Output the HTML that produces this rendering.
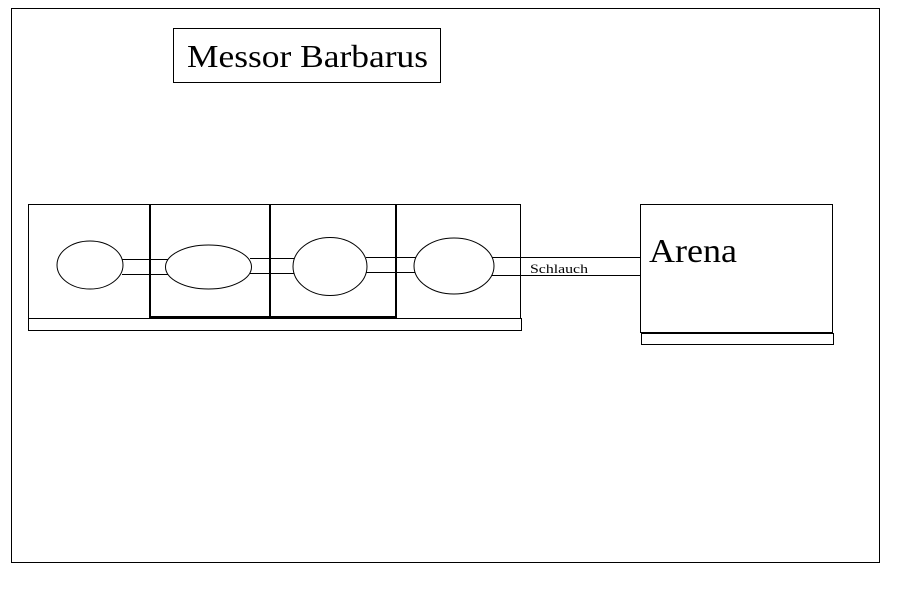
<!DOCTYPE html>
<html><head><style>body{margin:0;background:#fff}</style></head><body>
<svg width="916" height="586" xmlns="http://www.w3.org/2000/svg" font-family="Liberation Serif, serif">
<rect x="0" y="0" width="916" height="586" fill="#fff"/>
<rect x="11.5" y="8.5" width="868" height="554" fill="none" stroke="#000"/>
<rect x="173.5" y="28.5" width="267" height="54" fill="none" stroke="#000"/>
<text x="187" y="67" font-size="32" textLength="241" lengthAdjust="spacingAndGlyphs">Messor Barbarus</text>
<rect x="28.5" y="204.5" width="492" height="114" fill="none" stroke="#000"/>
<line x1="150" y1="204" x2="150" y2="318" stroke="#000" stroke-width="2"/>
<line x1="270" y1="204" x2="270" y2="318" stroke="#000" stroke-width="2"/>
<line x1="396" y1="204" x2="396" y2="318" stroke="#000" stroke-width="2"/>
<line x1="150" y1="317" x2="396" y2="317" stroke="#000" stroke-width="2"/>
<rect x="28.5" y="318.5" width="493" height="12" fill="none" stroke="#000"/>
<g stroke="#000" fill="none">
<line x1="122" y1="259.5" x2="168" y2="259.5"/><line x1="122" y1="274.5" x2="168" y2="274.5"/>
<line x1="250" y1="258.5" x2="295" y2="258.5"/><line x1="250" y1="273.5" x2="295" y2="273.5"/>
<line x1="366" y1="257.5" x2="416" y2="257.5"/><line x1="366" y1="272.5" x2="416" y2="272.5"/>
<line x1="492" y1="257.5" x2="640" y2="257.5"/><line x1="492" y1="275.5" x2="640" y2="275.5"/>
<ellipse cx="90" cy="265" rx="33" ry="24" fill="#fff"/>
<ellipse cx="208.5" cy="267" rx="43" ry="22" fill="#fff"/>
<ellipse cx="330" cy="266.5" rx="37" ry="29" fill="#fff"/>
<ellipse cx="454" cy="266" rx="40" ry="28" fill="#fff"/>
<rect x="640.5" y="204.5" width="192" height="128"/>
<rect x="641.5" y="333.5" width="192" height="11"/>
</g>
<text x="530" y="273" font-size="13" textLength="58" lengthAdjust="spacingAndGlyphs">Schlauch</text>
<text x="649" y="262" font-size="34" textLength="88" lengthAdjust="spacingAndGlyphs">Arena</text>
</svg>
</body></html>
